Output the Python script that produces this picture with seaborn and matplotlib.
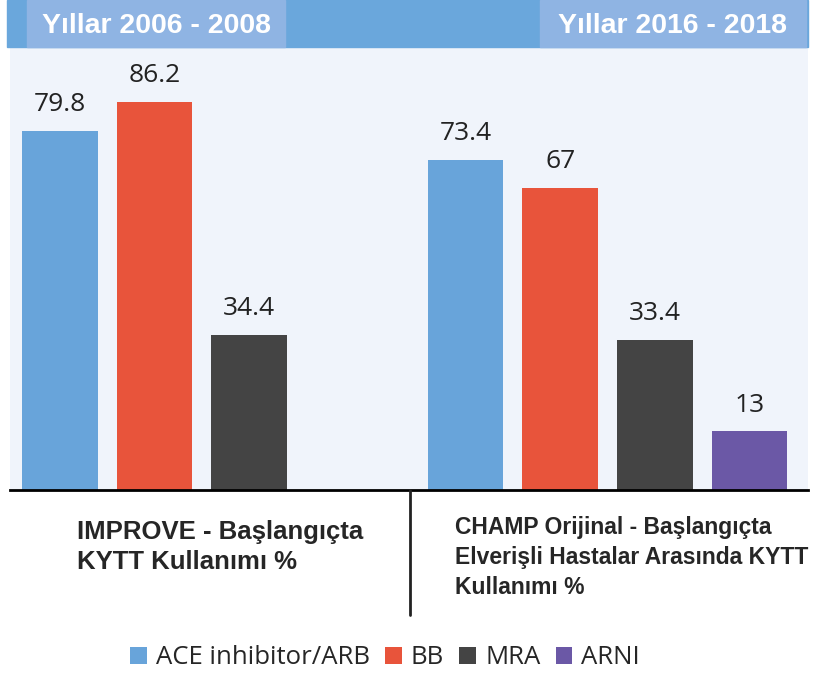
import numpy as np
import pandas as pd
import matplotlib
matplotlib.use('Agg')
import matplotlib.pyplot as plt
import seaborn as sns
from matplotlib.patches import Rectangle, Patch

# data
drugs = ['ACE inhibitor/ARB', 'BB', 'MRA', 'ARNI']
improve_vals = [79.8, 86.2, 34.4]
champ_vals = [73.4, 67, 33.4, 13]
period_labels = ['Yıllar 2006 - 2008', 'Yıllar 2016 - 2018']
study_labels = ['IMPROVE - Başlangıçta\nKYTT Kullanımı %',
                'CHAMP Orijinal - Başlangıçta\nElverişli Hastalar Arasında KYTT\nKullanımı %']
colors = ['#68a4da', '#e8543b', '#444444', '#6b58a6']

W, H = 815, 675

# bar positions: two groups, one unit apart inside a group
right_start = 4.29
pos = list(np.arange(len(improve_vals))) + list(right_start + np.arange(len(champ_vals)))
df = pd.DataFrame({
    'pos': pos,
    'value': improve_vals + champ_vals,
    'drug': drugs[:len(improve_vals)] + drugs[:len(champ_vals)],
})

sns.set_theme(style='white')
plt.rcParams['font.family'] = ['Open Sans', 'DejaVu Sans']
bold_font = ['Liberation Sans', 'DejaVu Sans']

fig = plt.figure(figsize=(W / 100, H / 100), dpi=100)
fig.patch.set_facecolor('white')


def fx(px):
    return px / W


def fy(py):
    return 1 - py / H


ax = fig.add_axes([fx(10), fy(490), fx(808) - fx(10), fy(47) - fy(490)])
ax.set_facecolor('#f0f4fb')

sns.barplot(data=df, x='pos', y='value', hue='drug', hue_order=drugs,
            palette=colors, native_scale=True, dodge=False, width=0.8,
            saturation=1, legend=False, linewidth=0, edgecolor='none', ax=ax)

for cont in ax.containers:
    ax.bar_label(cont, fmt='%g', padding=10, fontsize=19, color='#222222')

ax.set_xlim(-0.527, 7.91)
ax.set_ylim(0, 98.4)
ax.set_xlabel('')
ax.set_ylabel('')
ax.set_xticks([])
ax.set_yticks([])
for s in ['top', 'left', 'right']:
    ax.spines[s].set_visible(False)
ax.spines['bottom'].set_color('black')
ax.spines['bottom'].set_linewidth(2)

# top band with period boxes
fig.patches.append(Rectangle((fx(7), fy(47)), fx(808) - fx(7), fy(0) - fy(47),
                             transform=fig.transFigure, color='#6aa7dc', zorder=0))
for (x0, x1), lab in zip([(27, 285), (540, 806)], period_labels):
    fig.patches.append(Rectangle((fx(x0), fy(47)), fx(x1) - fx(x0), fy(0) - fy(47),
                                 transform=fig.transFigure, color='#8fb4e3', zorder=1))
    fig.text(fx((x0 + x1) / 2), fy(26), lab, ha='center', va='center', color='white',
             fontsize=20.5, fontweight='bold', family=bold_font)

# divider
fig.add_artist(plt.Line2D([fx(410), fx(410)], [fy(490), fy(615)],
                          transform=fig.transFigure, color='#222222', lw=2))

# study captions
fig.text(fx(77), fy(520), study_labels[0], ha='left', va='top', fontsize=18.5,
         fontweight='bold', linespacing=1.33, family=bold_font)
fig.text(fx(455), fy(516), study_labels[1], ha='left', va='top', fontsize=16.5,
         fontweight='bold', linespacing=1.38, family=bold_font)

# legend
handles = [Patch(facecolor=c, edgecolor='none') for c in colors]
fig.legend(handles, drugs, loc='center', bbox_to_anchor=(fx(385), fy(658)), ncol=4,
           frameon=False, fontsize=18.5, handlelength=0.65, handleheight=0.65,
           handletextpad=0.35, columnspacing=0.6)

fig.savefig('out.png', dpi=100)
